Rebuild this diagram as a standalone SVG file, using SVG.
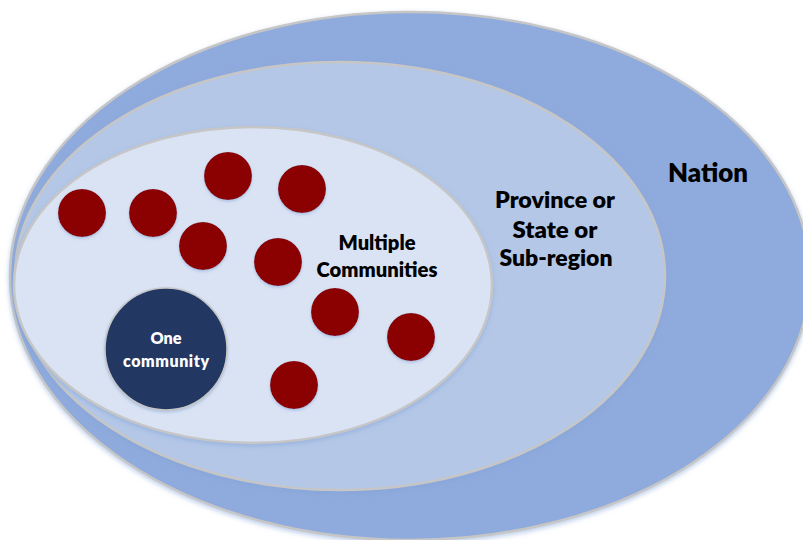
<svg xmlns="http://www.w3.org/2000/svg" width="803" height="540" viewBox="0 0 803 540">
  <defs>
    <filter id="glow" x="-10%" y="-10%" width="120%" height="125%">
      <feDropShadow dx="0" dy="2" stdDeviation="2.5" flood-color="#7fa3d8" flood-opacity="0.55"/>
    </filter>
    <filter id="dotglow" x="-30%" y="-30%" width="160%" height="160%">
      <feDropShadow dx="0" dy="1.5" stdDeviation="1.5" flood-color="#8aa8d8" flood-opacity="0.6"/>
    </filter>
  </defs>
  <style>
    .ring { stroke: #c6c6c6; stroke-width: 2.5; filter: url(#glow); }
    .dot { fill: #8b0000; filter: url(#dotglow); }
    .lbl { font-family: Lato, "Open Sans", "Liberation Sans", sans-serif; font-weight: 800; fill: #000000; text-anchor: middle; }
    .wlbl { font-family: Lato, "Open Sans", "Liberation Sans", sans-serif; font-weight: 800; fill: #ffffff; text-anchor: middle; }
  </style>
  <rect width="803" height="540" fill="#ffffff"/>

  <g id="nation">
    <ellipse class="ring" cx="410" cy="276" rx="400" ry="264" fill="#8faadc"/>
    <text class="lbl" x="708" y="182" font-size="26" textLength="80" lengthAdjust="spacingAndGlyphs">Nation</text>
  </g>

  <g id="province">
    <ellipse class="ring" cx="340" cy="276" rx="325" ry="214" fill="#b4c7e7"/>
    <text class="lbl" x="555" y="208" font-size="22" textLength="120" lengthAdjust="spacingAndGlyphs">Province or</text>
    <text class="lbl" x="555" y="238" font-size="22" textLength="85" lengthAdjust="spacingAndGlyphs">State or</text>
    <text class="lbl" x="556" y="266" font-size="22" textLength="113" lengthAdjust="spacingAndGlyphs">Sub-region</text>
  </g>

  <g id="communities">
    <ellipse class="ring" cx="253" cy="285" rx="239" ry="158" fill="#dae3f3"/>
    <text class="lbl" x="377" y="250" font-size="20" textLength="77" lengthAdjust="spacingAndGlyphs">Multiple</text>
    <text class="lbl" x="377" y="277" font-size="20" textLength="121" lengthAdjust="spacingAndGlyphs">Communities</text>
  </g>

  <g id="dots">
    <circle class="dot" cx="82" cy="213" r="24"/>
    <circle class="dot" cx="153" cy="213" r="24"/>
    <circle class="dot" cx="228" cy="176" r="24"/>
    <circle class="dot" cx="302" cy="189" r="24"/>
    <circle class="dot" cx="203" cy="246" r="24"/>
    <circle class="dot" cx="278" cy="262" r="24"/>
    <circle class="dot" cx="335" cy="312" r="24"/>
    <circle class="dot" cx="411" cy="337" r="24"/>
    <circle class="dot" cx="294" cy="385" r="24"/>
  </g>

  <g id="one-community">
    <circle cx="166" cy="349" r="61" fill="#203864" stroke="#c6c6c6" stroke-width="1.5" filter="url(#dotglow)"/>
    <text class="wlbl" x="166" y="344" font-size="16" textLength="31" lengthAdjust="spacingAndGlyphs">One</text>
    <text class="wlbl" x="166" y="367" font-size="16" textLength="86" lengthAdjust="spacing">community</text>
  </g>

  <g id="connectors"></g>
</svg>
